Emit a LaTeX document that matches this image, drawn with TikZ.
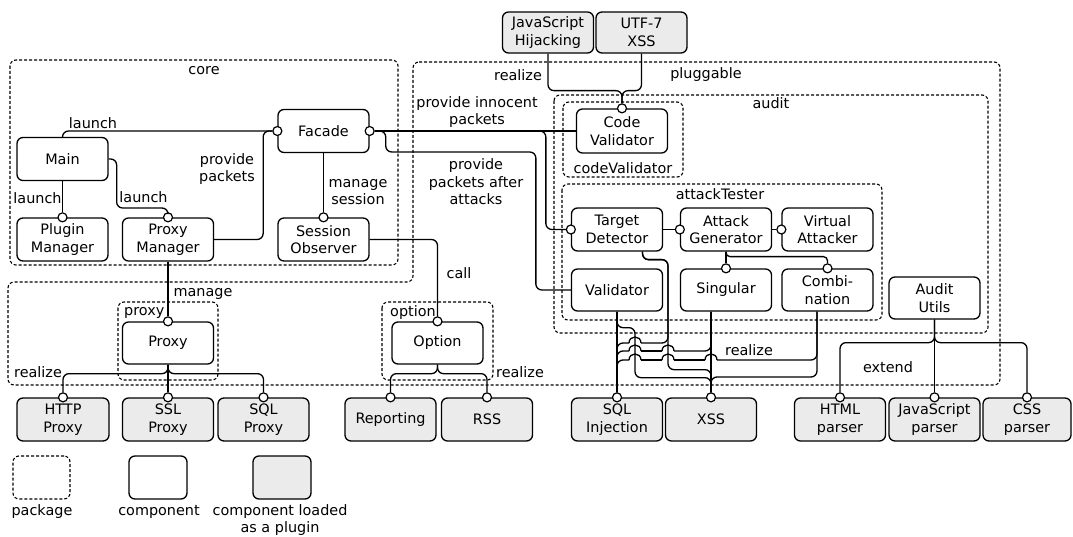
\documentclass[tikz,border=0pt]{standalone}
\usepackage{fontspec}
\setmainfont{DejaVu Sans}
\usetikzlibrary{calc}
\definecolor{plugfill}{RGB}{235,235,235}
% a small bump where a horizontal wire jumps over a vertical one
\newcommand\wirehop[2]{\draw[wire] (#1-6,#2) .. controls (#1-6,#2-8) and (#1+6,#2-8) .. (#1+6,#2);}
\begin{document}
\begin{tikzpicture}[x=1pt,y=-1pt,
  every node/.style={font=\fontsize{14.4}{17.5}\selectfont},
  comp/.style={draw, line width=1.3pt, rounded corners=6pt, fill=white, align=center,
    inner sep=0pt, minimum width=91pt, minimum height=43pt},
  plug/.style={comp, fill=plugfill},
  pkg/.style={draw, dash pattern=on 3pt off 2pt, line width=1.1pt, rounded corners=6pt},
  sock/.style={circle, draw, fill=white, line width=1.2pt, inner sep=0pt, minimum size=9pt},
  wire/.style={line width=1.3pt, rounded corners=6pt},
  lbl/.style={align=center, inner sep=0pt}]

\path[use as bounding box, fill=white] (0,0) rectangle (1073,537);

% ---------- packages ----------
\draw[pkg] (10,60) rectangle (398,265);
\draw[pkg] (413,62) -- (1000,62) -- (1000,385) -- (8,385) -- (8,282) -- (413,282) -- cycle;
\draw[pkg] (554,95) rectangle (988,333);
\draw[pkg] (563,102) rectangle (683,177);
\draw[pkg] (562,184) rectangle (882,320);
\draw[pkg] (118,302) rectangle (218,380);
\draw[pkg] (382,302) rectangle (493,380);

\node[lbl] (tCore) at (204,71) {core};
\node[lbl] (tPlug) at (706,75) {pluggable};
\node[lbl] (tAudit) at (771,103) {audit};
\node[lbl] (tCodeV) at (623,168) {codeValidator};
\node[lbl] (tAttack) at (720,194) {attackTester};
\node[lbl, anchor=west] (tProxyPkg) at (124,313) {proxy};
\node[lbl, anchor=west] (tOptionPkg) at (390,313) {option};

% ---------- components ----------
\node[comp] (Main) at (62.5,159) {Main};
\node[comp] (Facade) at (323.5,131) {Facade};
\node[comp] (PluginMgr) at (62.5,239.5) {Plugin\\Manager};
\node[comp] (ProxyMgr) at (168,239.5) {Proxy\\Manager};
\node[comp] (SessionObs) at (323.5,239.5) {Session\\Observer};
\node[plug, minimum height=41pt] (JSHijack) at (548,32.5) {JavaScript\\Hijacking};
\node[plug, minimum height=41pt] (UTF) at (641.5,32.5) {UTF-7\\XSS};
\node[comp, minimum height=44pt] (CodeVal) at (622,131) {Code\\Validator};
\node[comp] (TD) at (617,229.5) {Target\\Detector};
\node[comp] (AG) at (726,229.5) {Attack\\Generator};
\node[comp] (VA) at (827.5,229.5) {Virtual\\Attacker};
\node[comp, minimum height=42pt] (Validator) at (617,290) {Validator};
\node[comp, minimum height=42pt] (Singular) at (726,290) {Singular};
\node[comp, minimum height=42pt] (Comb) at (827.5,290) {Combi-\\nation};
\node[comp, minimum height=42pt] (AuditUtils) at (934.5,298) {Audit\\Utils};
\node[comp, minimum height=42pt] (Proxy) at (168,343) {Proxy};
\node[comp, minimum height=42pt] (Option) at (437.5,343) {Option};

\node[plug, minimum width=92pt] (HTTP) at (63,419.5) {HTTP\\Proxy};
\node[plug] (SSL) at (168,419.5) {SSL\\Proxy};
\node[plug] (SQLP) at (263.5,419.5) {SQL\\Proxy};
\node[plug] (Reporting) at (390.5,419.5) {Reporting};
\node[plug] (RSS) at (487,419.5) {RSS};
\node[plug] (SQLi) at (617,419.5) {SQL\\Injection};
\node[plug] (XSS) at (711,419.5) {XSS};
\node[plug] (HTMLp) at (840,419.5) {HTML\\parser};
\node[plug] (JSp) at (934.5,419.5) {JavaScript\\parser};
\node[plug, minimum width=88pt] (CSSp) at (1027,419.5) {CSS\\parser};

% ---------- sockets ----------
\node[sock] (sFacL) at (Facade.west) {};
\node[sock] (sFacR) at (Facade.east) {};
\node[sock] (sPlugin) at (PluginMgr.north) {};
\node[sock] (sProxyMgr) at (ProxyMgr.north) {};
\node[sock] (sSess) at (SessionObs.north) {};
\node[sock] (sCV) at (CodeVal.north) {};
\node[sock] (sTD) at (TD.west) {};
\node[sock] (sAG) at (AG.west) {};
\node[sock] (sVA) at (VA.west) {};
\node[sock] (sSing) at (Singular.north) {};
\node[sock] (sComb) at (Comb.north) {};
\node[sock] (sProxy) at (Proxy.north) {};
\node[sock] (sOption) at (Option.north) {};
\node[sock] (sHTTP) at (HTTP.north) {};
\node[sock] (sSSL) at (SSL.north) {};
\node[sock] (sSQLP) at (SQLP.north) {};
\node[sock] (sReporting) at (Reporting.north) {};
\node[sock] (sRSS) at (RSS.north) {};
\node[sock] (sSQLi) at (SQLi.north) {};
\node[sock] (sXSS) at (XSS.north) {};
\node[sock] (sHTMLp) at (HTMLp.north) {};
\node[sock] (sJSp) at (JSp.north) {};
\node[sock] (sCSSp) at (CSSp.north) {};

% ---------- core wiring ----------
\draw[wire] (Main.north) |- (sFacL);
\draw[wire] (Main.south) -- (sPlugin);
\draw[wire] (Main.east) -- ++(8,0) -- ++(0,49) -| (sProxyMgr);
\draw[wire] (ProxyMgr.east) -- ++(49,0) |- (sFacL);
\draw[wire] (Facade.south) -- (sSess);
\draw[wire] (SessionObs.east) -| (sOption);
\draw[wire] (ProxyMgr.south) -- (sProxy);

\node[lbl] (lLaunch1) at (93,123) {launch};
\node[lbl] (lLaunch2) at (37.5,198) {launch};
\node[lbl] (lLaunch3) at (143.5,197) {launch};
\node[lbl] (lProvide) at (227,169) {provide\\packets};
\node[lbl] (lManageS) at (358,192) {manage\\session};
\node[lbl] (lCall) at (459,273) {call};
\node[lbl] (lManage) at (203,294) {manage};

% ---------- proxy and option plugins ----------
\draw[wire] (Proxy.south) -- ++(0,9) -| (sHTTP);
\draw[wire] (Proxy.south) -- (sSSL);
\draw[wire] (Proxy.south) -- ++(0,9) -| (sSQLP);
\draw[wire] (Option.south) -- ++(0,9) -| (sReporting);
\draw[wire] (Option.south) -- ++(0,9) -| (sRSS);
\node[lbl] (lRealL) at (38,372) {realize};
\node[lbl] (lRealO) at (520,372) {realize};

% ---------- facade to audit ----------
\draw[wire] (JSHijack.south) -- ++(0,37) -| (sCV);
\draw[wire] (UTF.south) -- ++(0,37) -| (sCV);
\node[lbl] (lRealT) at (518,75) {realize};

\draw[wire] (sFacR) -- (CodeVal.west);
\draw[wire] (sFacR) -| ([xshift=-25pt]TD.west) -- (sTD);
\draw[wire] (sFacR.east) -- ++(11,0) -- ++(0,21) -| ([xshift=-35pt]Validator.west) -- (Validator.west);
\node[lbl] (lInnocent) at (477,112) {provide innocent\\packets};
\node[lbl] (lAfter) at (476,182) {provide\\packets after\\attacks};

% ---------- attack tester ----------
\draw[wire] (TD.east) -- (sAG);
\draw[wire] (AG.east) -- (sVA);
\draw[wire] (AG.south) -- (sSing);
\draw[wire, rounded corners=4pt] (AG.south) -- ++(0,5) -| (sComb);

% ---------- realize: SQL Injection and XSS ----------
\coordinate (tapTD) at ([xshift=25.5pt]TD.south);
\coordinate (tapS) at ([xshift=-15pt]Singular.south);
\coordinate (tapC) at ([xshift=-10.5pt]Comb.south);

\draw[wire] (Validator.south) -- (sSQLi);
\draw[wire] (Validator.south) -- ++(0,16) -- ++(18,0) -- ++(0,50) -| (sXSS);

\draw[wire] (tapTD) -- ++(0,8) -- ++(25.5,0) -- ++(0,110) -| (sXSS);
\draw[wire] (tapTD) -- ++(0,8) -- ++(25.5,0) -- (668,343) -- (641,343);
\wirehop{635}{343}
\draw[wire] (629,343) -| (sSQLi);

\draw[wire] (tapS) -- (sXSS);
\draw[wire] (tapS) |- (674,351);
\wirehop{668}{351}
\draw[wire] (662,351) -- (641,351);
\wirehop{635}{351}
\draw[wire] (629,351) -| (sSQLi);

\draw[wire] (tapC) -- (817,377) -| (sXSS);
\draw[wire] (tapC) |- (717,360);
\wirehop{711}{360}
\draw[wire] (705,360) -- (674,360);
\wirehop{668}{360}
\draw[wire] (662,360) -- (641,360);
\wirehop{635}{360}
\draw[wire] (629,360) -| (sSQLi);
\node[lbl] (lRealX) at (749,350) {realize};

% ---------- audit utils ----------
\draw[wire] (AuditUtils.south) -- ++(0,23) -| (sHTMLp);
\draw[wire] (AuditUtils.south) -- (sJSp);
\draw[wire] (AuditUtils.south) -- ++(0,23) -| (sCSSp);
\node[lbl] (lExtend) at (888,367) {extend};

% ---------- legend ----------
\node[pkg, minimum width=57pt, minimum height=43pt, inner sep=0pt] (legPkg) at (41.5,477.5) {};
\node[comp, minimum width=58pt] (legComp) at (158,477.5) {};
\node[plug, minimum width=58pt] (legPlug) at (282,477.5) {};
\node[lbl] (legPkgT) at (42,512) {package};
\node[lbl] (legCompT) at (159,512) {component};
\node[lbl] (legPlugT) at (280,520) {component loaded\\as a plugin};
\end{tikzpicture}
\end{document}
